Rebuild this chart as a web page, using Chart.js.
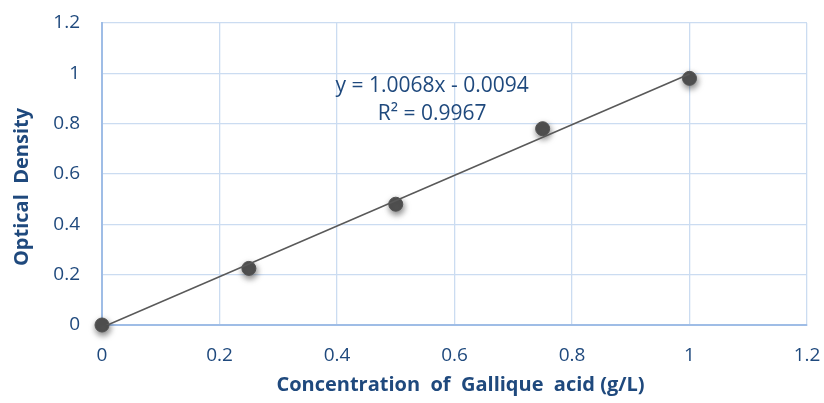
<!DOCTYPE html>
<html><head><meta charset="utf-8">
<script src="https://cdn.jsdelivr.net/npm/chart.js@4"></script>
<style>html,body{margin:0;padding:0;background:#fff}#w{width:824px;height:403px}</style>
</head><body><div id="w"><canvas id="c"></canvas></div>
<script>
const concentration = [0, 0.25, 0.5, 0.75, 1];
const opticalDensity = [0, 0.225, 0.48, 0.78, 0.98];
const trendX = [0, 1];
const trendY = [-0.0094, 0.9974];
const tickValues = [0, 0.2, 0.4, 0.6, 0.8, 1, 1.2];
const equationLines = ['y = 1.0068x - 0.0094', 'R² = 0.9967'];
const xTitle = 'Concentration  of  Gallique  acid (g/L)';
const yTitle = 'Optical  Density';

const txt = '#1f497d';
const fontFam = '"Open Sans", Lato, sans-serif';

const shadowPlugin = {
  id: 'shadow',
  beforeDatasetDraw(chart, args) {
    if (args.index === 1) {
      chart.ctx.save();
      chart.ctx.shadowColor = 'rgba(0,0,0,0.5)';
      chart.ctx.shadowBlur = 6;
      chart.ctx.shadowOffsetX = 1;
      chart.ctx.shadowOffsetY = 3;
    }
  },
  afterDatasetDraw(chart, args) {
    if (args.index === 1) chart.ctx.restore();
  }
};
const textPlugin = {
  id: 'texts',
  afterDatasetsDraw(chart) {
    const ctx = chart.ctx, xs = chart.scales.x, ys = chart.scales.y, a = chart.chartArea;
    ctx.save();
    ctx.fillStyle = txt;
    ctx.font = '21px ' + fontFam;
    ctx.textAlign = 'center';
    ctx.textBaseline = 'middle';
    ctx.fillText(equationLines[0], xs.getPixelForValue(0.562), ys.getPixelForValue(0.95));
    ctx.fillText(equationLines[1], xs.getPixelForValue(0.562), ys.getPixelForValue(0.838));
    ctx.font = 'bold 20px ' + fontFam;
    ctx.fillText(xTitle, (a.left + a.right) / 2 + 6, a.bottom + 60);
    ctx.translate(22, (a.top + a.bottom) / 2 + 13);
    ctx.rotate(-Math.PI / 2);
    ctx.fillText(yTitle, 0, 0);
    ctx.restore();
  }
};

new Chart(document.getElementById('c'), {
  type: 'scatter',
  data: {
    datasets: [
      {
        type: 'line',
        data: trendX.map((x, i) => ({x, y: trendY[i]})),
        borderColor: '#595959', borderWidth: 1.6, pointRadius: 0, fill: false
      },
      {
        data: concentration.map((x, i) => ({x, y: opticalDensity[i]})),
        backgroundColor: '#525252', borderColor: '#525252', pointRadius: 7, pointHoverRadius: 7,
        clip: false
      }
    ]
  },
  plugins: [shadowPlugin, textPlugin],
  options: {
    responsive: true, maintainAspectRatio: false, animation: false,
    layout: {padding: {left: 6, top: 23, right: 17, bottom: 0}},
    plugins: {legend: {display: false}, tooltip: {enabled: false}},
    scales: {
      x: {
        type: 'linear', min: 0, max: 1.2,
        afterBuildTicks: s => { s.ticks = tickValues.map(v => ({value: v})); },
        afterFit: s => { s.height = 78; s.paddingLeft = 0; s.paddingRight = 0; },
        ticks: {color: txt, font: {family: fontFam, size: 19}, padding: 19,
          callback: v => String(Math.round(v * 10) / 10)},
        grid: {color: '#cbdcf1', lineWidth: 1.3, drawTicks: false},
        border: {color: '#9fbde6', width: 2},
        title: {display: false, text: xTitle}
      },
      y: {
        min: 0, max: 1.2,
        afterBuildTicks: s => { s.ticks = tickValues.map(v => ({value: v})); },
        afterFit: s => { s.width = 96; s.paddingTop = 0; s.paddingBottom = 0; },
        ticks: {color: txt, font: {family: fontFam, size: 19}, padding: 22,
          callback: v => String(Math.round(v * 10) / 10)},
        grid: {color: '#cbdcf1', lineWidth: 1.3, drawTicks: false},
        border: {color: '#9fbde6', width: 2},
        title: {display: false, text: yTitle}
      }
    }
  }
});
</script></body></html>
